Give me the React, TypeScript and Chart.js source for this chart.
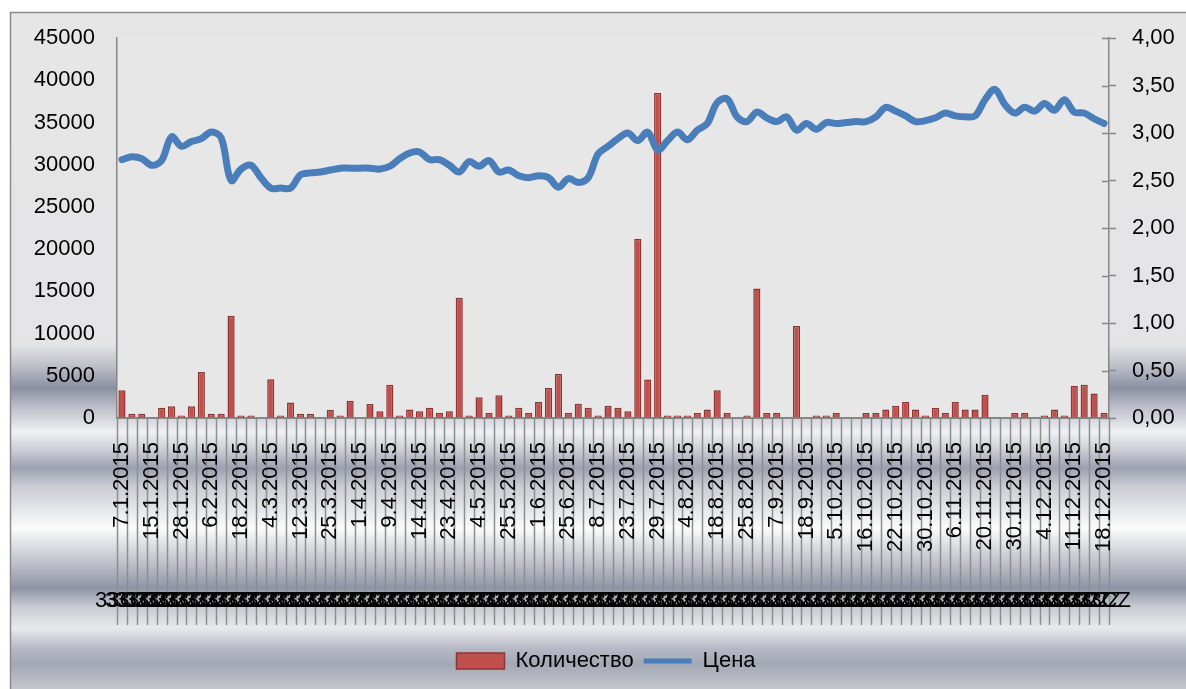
import { useEffect, useRef } from 'react';
import { Chart, registerables } from 'chart.js';

Chart.register(...registerables);

const categories: string[] = [
  '7.1.2015', '9.1.2015', '13.1.2015', '15.1.2015', '20.1.2015', '23.1.2015', '28.1.2015', '30.1.2015', '3.2.2015', '6.2.2015',
  '10.2.2015', '13.2.2015', '18.2.2015', '20.2.2015', '26.2.2015', '4.3.2015', '6.3.2015', '10.3.2015', '12.3.2015', '17.3.2015',
  '20.3.2015', '25.3.2015', '27.3.2015', '30.3.2015', '1.4.2015', '3.4.2015', '7.4.2015', '9.4.2015', '10.4.2015', '13.4.2015',
  '14.4.2015', '17.4.2015', '21.4.2015', '23.4.2015', '24.4.2015', '28.4.2015', '4.5.2015', '8.5.2015', '15.5.2015', '25.5.2015',
  '27.5.2015', '29.5.2015', '1.6.2015', '10.6.2015', '17.6.2015', '25.6.2015', '29.6.2015', '3.7.2015', '8.7.2015', '13.7.2015',
  '17.7.2015', '23.7.2015', '24.7.2015', '27.7.2015', '29.7.2015', '30.7.2015', '31.7.2015', '4.8.2015', '7.8.2015', '12.8.2015',
  '18.8.2015', '20.8.2015', '21.8.2015', '25.8.2015', '27.8.2015', '1.9.2015', '7.9.2015', '9.9.2015', '11.9.2015', '18.9.2015',
  '23.9.2015', '29.9.2015', '5.10.2015', '7.10.2015', '13.10.2015', '16.10.2015', '19.10.2015', '20.10.2015', '22.10.2015', '26.10.2015',
  '28.10.2015', '30.10.2015', '2.11.2015', '4.11.2015', '6.11.2015', '11.11.2015', '16.11.2015', '20.11.2015', '24.11.2015', '26.11.2015',
  '30.11.2015', '1.12.2015', '2.12.2015', '4.12.2015', '7.12.2015', '9.12.2015', '11.12.2015', '14.12.2015', '16.12.2015', '18.12.2015',
];

// second-level category label (the dense overlapping row)
const secondLevelLabel = '33CZ';

const quantity: number[] = [
  3300, 500, 500, 0, 1200, 1400, 300, 1400, 5450, 500,
  500, 12100, 300, 300, 0, 4600, 300, 1850, 500, 500,
  0, 950, 300, 2050, 0, 1650, 800, 3950, 300, 1000,
  800, 1200, 600, 800, 14250, 300, 2450, 600, 2700, 300,
  1200, 600, 1900, 3550, 5250, 600, 1700, 1200, 300, 1450,
  1200, 800, 21200, 4550, 38500, 300, 300, 300, 600, 1000,
  3300, 600, 0, 300, 15350, 600, 600, 0, 10900, 0,
  300, 300, 600, 0, 0, 600, 600, 1000, 1450, 1900,
  1000, 300, 1200, 600, 1900, 1000, 1000, 2750, 0, 0,
  600, 600, 0, 300, 1000, 300, 3800, 3950, 2900, 600,
];

const price: number[] = [
  2.72, 2.75, 2.73, 2.66, 2.71, 2.96, 2.86, 2.91, 2.94, 3.01,
  2.95, 2.50, 2.62, 2.66, 2.53, 2.42, 2.42, 2.42, 2.56, 2.58,
  2.59, 2.61, 2.63, 2.63, 2.63, 2.63, 2.62, 2.65, 2.73, 2.79,
  2.80, 2.72, 2.72, 2.66, 2.59, 2.70, 2.65, 2.71, 2.59, 2.61,
  2.55, 2.53, 2.55, 2.53, 2.43, 2.52, 2.48, 2.53, 2.78, 2.86,
  2.94, 3.00, 2.92, 3.01, 2.82, 2.92, 3.01, 2.93, 3.03, 3.10,
  3.32, 3.36, 3.17, 3.12, 3.22, 3.16, 3.12, 3.17, 3.03, 3.10,
  3.04, 3.11, 3.10, 3.11, 3.12, 3.12, 3.17, 3.27, 3.23, 3.18,
  3.12, 3.13, 3.16, 3.21, 3.18, 3.17, 3.18, 3.35, 3.46, 3.30,
  3.21, 3.27, 3.23, 3.31, 3.24, 3.35, 3.22, 3.21, 3.15, 3.10,
];

const quantityTicks: number[] = [0, 5000, 10000, 15000, 20000, 25000, 30000, 35000, 40000, 45000];
const priceTicks: number[] = [0, 0.5, 1, 1.5, 2, 2.5, 3, 3.5, 4];
const labelEvery = 3;

const FONT = { family: "'Liberation Sans', Arial, sans-serif", size: 22 };
const AXIS_GRAY = '#868686';

const bgPlugin = {
  id: 'excelBg',
  beforeDraw(chart: any) {
    const { ctx, width, height, chartArea, scales } = chart;
    ctx.save();
    ctx.fillStyle = '#ffffff';
    ctx.fillRect(0, 0, width, height);
    const g = ctx.createLinearGradient(0, 0, 0, height);
    const stops: [number, string][] = [
      [0, '#e6e6e6'],
      [345, '#e4e4e6'],
      [368, '#b9bcc6'],
      [388, '#8a90a2'],
      [405, '#b7bac5'],
      [432, '#f0f1f3'],
      [452, '#c6c9d0'],
      [468, '#9ca1b0'],
      [486, '#c9ccd3'],
      [528, '#fbfbfb'],
      [562, '#c0c3cb'],
      [588, '#8e94a5'],
      [606, '#c6c9d0'],
      [628, '#e9eaec'],
      [648, '#b6bac4'],
      [664, '#a3a8b5'],
      [689, '#c3c6cd'],
    ];
    stops.forEach(([y, c]) => g.addColorStop(y / height, c));
    ctx.fillStyle = g;
    ctx.fillRect(10, 12, width - 10, height - 12);
    ctx.strokeStyle = '#8a8a8a';
    ctx.lineWidth = 1.5;
    ctx.beginPath();
    ctx.moveTo(10.5, height);
    ctx.lineTo(10.5, 12.5);
    ctx.lineTo(width, 12.5);
    ctx.stroke();
    ctx.fillStyle = '#e7e7e7';
    ctx.fillRect(chartArea.left, chartArea.top, chartArea.right - chartArea.left, chartArea.bottom - chartArea.top);
    // category separators below the axis
    const x = scales.x;
    const n = categories.length;
    const step = x.getPixelForValue(1) - x.getPixelForValue(0);
    ctx.strokeStyle = '#8e8e8e';
    ctx.lineWidth = 1.5;
    ctx.beginPath();
    for (let k = 0; k <= n; k++) {
      const px = Math.round(x.getPixelForValue(Math.min(k, n - 1)) + (k < n ? -step / 2 : step / 2)) + 0.5;
      ctx.moveTo(px, chartArea.bottom);
      ctx.lineTo(px, chartArea.bottom + 207);
    }
    ctx.stroke();
    ctx.restore();
  },
  beforeDatasetsDraw(chart: any) {
    const { ctx, chartArea, scales } = chart;
    const y1 = scales.y1;
    ctx.save();
    ctx.strokeStyle = AXIS_GRAY;
    ctx.lineWidth = 1.5;
    ctx.beginPath();
    y1.ticks.forEach((t: any) => {
      const py = Math.round(y1.getPixelForValue(t.value)) + 0.5;
      ctx.moveTo(chartArea.right - 7, py);
      ctx.lineTo(chartArea.right, py);
    });
    ctx.stroke();
    ctx.restore();
  },
};

export default function App() {
  const ref = useRef<HTMLCanvasElement | null>(null);
  useEffect(() => {
    if (!ref.current) return;
    const chart = new Chart(ref.current, {
      type: 'bar',
      data: {
        labels: categories,
        datasets: [
          {
            type: 'bar',
            label: 'Количество',
            data: quantity,
            yAxisID: 'y',
            xAxisID: 'x',
            backgroundColor: '#C0504D',
            borderColor: '#8E3532',
            borderWidth: 1.5,
            barPercentage: 0.72,
            categoryPercentage: 1,
            order: 2,
          } as any,
          {
            type: 'line',
            label: 'Цена',
            data: price,
            yAxisID: 'y1',
            xAxisID: 'x',
            borderColor: '#4A7EBB',
            backgroundColor: '#4A7EBB',
            borderWidth: 7,
            pointRadius: 0,
            tension: 0.35,
            borderCapStyle: 'round',
            borderJoinStyle: 'round',
            order: 1,
          } as any,
        ],
      },
      options: {
        responsive: false,
        animation: false,
        devicePixelRatio: 1,
        layout: { padding: { top: 38, left: 26, right: 0, bottom: 7 } },
        plugins: {
          tooltip: { enabled: false },
          legend: {
            position: 'bottom',
            labels: {
              font: FONT,
              color: '#000',
              usePointStyle: true,
              pointStyleWidth: 48,
              boxHeight: 16,
              padding: 10,
              sort: (a: any, b: any) => a.datasetIndex - b.datasetIndex,
              generateLabels: (c: any) => {
                const items = (Chart.defaults.plugins.legend.labels as any).generateLabels(c);
                return items.map((it: any) =>
                  it.datasetIndex === 0
                    ? { ...it, pointStyle: 'rect', fillStyle: '#C0504D', strokeStyle: '#8E3532', lineWidth: 1.5 }
                    : { ...it, pointStyle: 'line', strokeStyle: '#4A7EBB', lineWidth: 5 }
                );
              },
            },
          },
        },
        scales: {
          x: {
            type: 'category',
            position: 'bottom',
            offset: true,
            grid: { display: true, drawOnChartArea: false, drawTicks: false },
            border: { display: true, color: AXIS_GRAY, width: 2 },
            ticks: {
              autoSkip: false,
              maxRotation: 90,
              minRotation: 90,
              padding: 24,
              color: '#000',
              font: FONT,
              callback: (_v: any, i: number) => (i % labelEvery === 0 ? categories[i] : ''),
            },
            afterFit: (s: any) => {
              s.height = 160;
            },
          },
          x2: {
            type: 'category',
            position: 'bottom',
            offset: true,
            labels: categories.map(() => secondLevelLabel),
            grid: { display: false, drawTicks: false },
            border: { display: false },
            ticks: {
              autoSkip: false,
              maxRotation: 0,
              minRotation: 0,
              padding: 10,
              color: '#000',
              font: FONT,
            },
            afterFit: (s: any) => {
              s.height = 62;
            },
          },
          y: {
            position: 'left',
            min: 0,
            max: 45000,
            grid: { display: true, drawOnChartArea: false, drawTicks: false },
            border: { display: true, color: AXIS_GRAY, width: 1.5 },
            afterBuildTicks: (s: any) => {
              s.ticks = quantityTicks.map((v) => ({ value: v }));
            },
            ticks: {
              padding: 22,
              color: '#000',
              font: FONT,
              callback: (v: any) => String(v),
            },
            afterFit: (s: any) => {
              s.width = 91;
            },
          },
          y1: {
            position: 'right',
            min: 0,
            max: 4,
            grid: { display: true, drawOnChartArea: false, drawTicks: true, tickLength: 7, tickColor: AXIS_GRAY, tickWidth: 1.5 },
            border: { display: true, color: AXIS_GRAY, width: 1.5 },
            afterBuildTicks: (s: any) => {
              s.ticks = priceTicks.map((v) => ({ value: v }));
            },
            ticks: {
              padding: 16,
              color: '#000',
              font: FONT,
              callback: (v: any) => Number(v).toFixed(2).replace('.', ','),
            },
            afterFit: (s: any) => {
              s.width = 77;
            },
          },
        },
      } as any,
      plugins: [bgPlugin],
    });
    return () => chart.destroy();
  }, []);
  return (
    <div style={{ position: 'absolute', left: 0, top: 0, width: 1186, height: 689 }}>
      <canvas ref={ref} width={1186} height={689} style={{ display: 'block', width: 1186, height: 689 }} />
    </div>
  );
}
